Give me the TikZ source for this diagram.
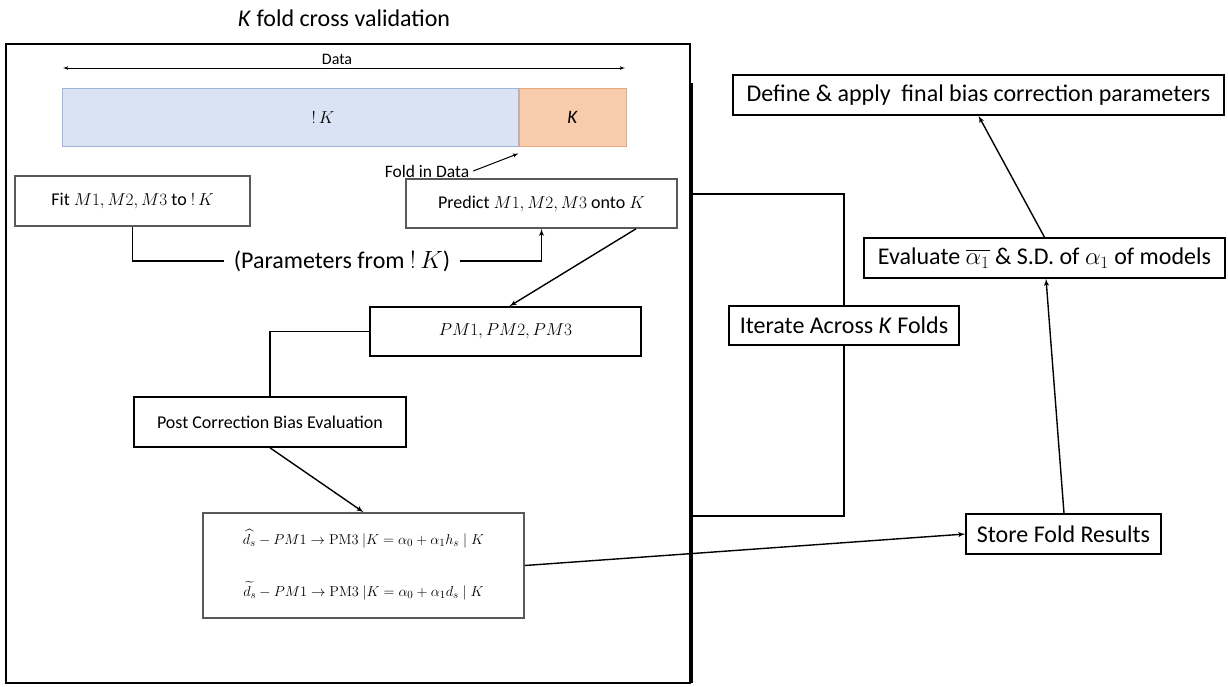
\documentclass[tikz,border=0pt]{standalone}
\usepackage{amsmath}
\usepackage{amssymb}
\usepackage[no-math]{fontspec}
\setmainfont{Carlito}
\usepackage{tikz}
\usetikzlibrary{arrows,positioning}

\definecolor{foldblue}{HTML}{DAE3F3}
\definecolor{foldblueline}{HTML}{9DB5DD}
\definecolor{foldpeach}{HTML}{F8CBAD}
\definecolor{foldpeachline}{HTML}{E9A77F}

\begin{document}
\begin{tikzpicture}[
    x=1pt, y=-1pt,
    auto,
    node distance=2cm,
    >=latex',
    line width=1.4pt,
    step box/.style={
		rectangle,
		draw=black,
		line width=1.6pt,
		text centered,
		inner sep=0pt,
		font=\fontsize{18}{21}\selectfont,
		fill=white
	},
	grey box/.style={
		step box,
		draw=black!65
	},
	outer box/.style={
		rectangle,
		draw=black,
		line width=1.5pt,
		inner sep=0pt,
		font=\fontsize{24}{28}\selectfont,
		fill=white
	},
	data bar/.style={
		rectangle,
		inner sep=0pt,
		line width=1pt,
		minimum height=58pt
	},
	label/.style={
		font=\fontsize{16}{19}\selectfont
	}
  ]
  \useasboundingbox (0,0) rectangle (1228,686);

  % the frame of the cross validation
  \node [font=\fontsize{24}{28}\selectfont] (title) at (344,18) {\textit{K} fold cross validation};
  \node [draw, line width=2pt, minimum width=684pt, minimum height=639pt, inner sep=0pt] (cvbox) at (348,363.5) {};

  % the data bar
  \node [data bar, fill=foldblue, draw=foldblueline, minimum width=456pt] (notk) at (290,117) {};
  \node [data bar, fill=foldpeach, draw=foldpeachline, minimum width=107pt, right=0pt of notk,
         font=\fontsize{19}{22}\selectfont] (kfold) {\textit{K}};
  \node [font=\fontsize{18}{21}\selectfont] (notklbl) at (323,117) {$!\,K$};
  \coordinate (datal) at (63,68);
  \coordinate (datar) at (625,68);
  \draw [<->, line width=0.8pt] (datal) -- node [label, above=0pt, midway, xshift=-7pt] {Data} (datar);
  \node [label, font=\fontsize{17.5}{20}\selectfont] (foldlbl) at (427,171) {Fold in Data};
  \draw [->, line width=1pt] (foldlbl.east) -- ([yshift=-7pt]kfold.south west);

  % We start by placing the blocks
  \node [grey box, minimum width=235pt, minimum height=50pt] (fit) at (132.5,201)
  {Fit $M1, M2, M3$ to $!\,K$};
  \node [grey box, minimum width=271pt, minimum height=49pt] (predict) at (541.5,203.5)
  {Predict $M1, M2, M3$ onto $K$};
  \node [font=\fontsize{24}{28}\selectfont, inner xsep=9pt] (params) at (342,261)
  {(Parameters from $!\,K$)};
  \node [step box, minimum width=271pt, minimum height=49pt] (pm) at (505.5,331.5)
  {$PM1, PM2, PM3$};
  \node [step box, minimum width=272pt, minimum height=50pt] (post) at (270,422)
  {Post Correction Bias Evaluation};
  \node [grey box, minimum width=321pt, minimum height=105pt, font=\fontsize{15.5}{18}\selectfont] (formula) at (363.5,565.5)
  {%
  \begin{tabular}{c}
   $\widehat{d_s} - PM1 \rightarrow \mathrm{PM3}\ |K = \alpha_0 + \alpha_1 h_s \mid K$\\[32pt]
   $\widetilde{d_s} - PM1 \rightarrow \mathrm{PM3}\ |K = \alpha_0 + \alpha_1 d_s \mid K$
  \end{tabular}
  };

  % blocks outside the frame
  \node [outer box, minimum width=230pt, minimum height=39pt] (iterate) at (844,325.5)
  {Iterate Across \textit{K} Folds};
  \node [outer box, minimum width=195pt, minimum height=40pt] (store) at (1063.5,534)
  {Store Fold Results};
  \node [outer box, minimum width=361pt, minimum height=40pt] (evaluate) at (1044.5,258)
  {Evaluate $\overline{\alpha_1}$ \& S.D. of $\alpha_1$ of models};
  \node [outer box, minimum width=491pt, minimum height=40pt] (define) at (978.5,95)
  {Define \& apply~ final bias correction parameters};

  \coordinate (looptop) at (692,83);
  \coordinate (loopbot) at (692,683);
  \coordinate (loopin) at (692,194);
  \coordinate (loopout) at (692,516);

  \draw (fit.south) |- (params.west);
  \draw [draw,->] (params.east) -| (predict.south);
  \draw [draw,->] ([xshift=94.5pt]predict.south) -- ([xshift=4pt]pm.north);
  \draw (pm.west) -| (post.north);
  \draw [draw,->] (post.south) -- (formula.north);
  \draw [draw,->] (formula.east) -- (store.west);
  \draw [draw,->] ([xshift=0.5pt]store.north) -- ([xshift=1.5pt]evaluate.south);
  \draw [draw,->] (evaluate.north) -- (define.south);
  \draw [line width=2pt] (looptop) -- (loopbot);
  \draw (loopin) -| (iterate.north);
  \draw (iterate.south) |- (loopout);

\end{tikzpicture}
\end{document}
